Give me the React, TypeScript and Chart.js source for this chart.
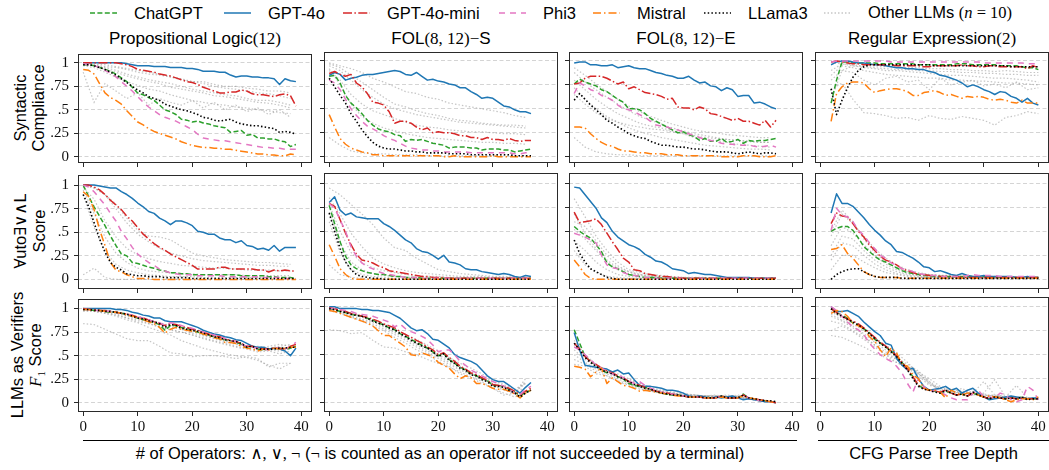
import React, { useEffect, useRef } from 'react';
import { Chart, registerables } from 'chart.js';
Chart.register(...registerables);

// ---------------- ticks / categories ----------------
const X_TICKS = [0, 10, 20, 30, 40];
const Y_TICKS = [0, 0.25, 0.5, 0.75, 1];
const Y_TICK_LABELS = ['0', '.25', '.5', '.75', '1'];
const COL_X_START = [0, 0, 0, 2]; // first x value of each column's series
const OTHER_STEP = 2; // x step of the "Other LLMs" samples

// ---------------- values (percent) ----------------
// Row 1: Syntactic Compliance
const PL_SC_CHATGPT = [98,98,97,95,93,91,88,84,80,74,68,66,63,60,55,50,48,45,40,39,37,38,36,35,33,32,31,26,27,28,23,24,20,20,19,19,17,16,11,13];
const PL_SC_GPT4O = [100,100,100,100,100,100,100,100,99,98,97,97,97,96,96,96,95,95,95,94,94,93,91,91,91,90,90,87,85,86,86,85,85,84,84,83,77,83,81,80];
const PL_SC_MINI = [100,100,100,100,100,100,100,99,98,96,93,92,91,90,88,87,86,84,82,80,79,77,74,72,70,68,68,69,69,71,70,67,66,66,65,64,66,67,65,54];
const PL_SC_PHI3 = [99,98,97,95,92,89,85,80,75,70,64,58,53,49,45,42,40,38,35,32,29,24,20,19,18,17,17,16,15,14,13,12,11,10,10,9,9,8,8,8];
const PL_SC_MISTRAL = [93,92,88,78,68,63,60,56,49,43,37,34,30,27,25,23,21,19,16,14,12,11,10,10,9,9,8,8,7,6,5,4,3,3,2,2,1,1,3,2];
const PL_SC_LLAMA3 = [98,98,97,95,93,90,87,83,79,75,71,68,64,62,60,56,54,52,50,49,47,45,42,41,39,38,39,40,37,35,34,33,33,32,31,30,26,27,26,24];
const PL_SC_OTHERS = [
  [100,99,98,96,94,92,90,88,85,83,80,78,75,73,72,70,68,67,65,62],
  [98,97,95,92,88,85,82,80,78,75,72,70,68,66,65,62,60,60,58,55],
  [97,95,90,85,80,76,72,70,66,63,60,58,56,55,53,52,50,49,47,46],
  [90,58,78,70,62,68,55,62,58,55,60,52,58,50,55,48,52,45,50,42],
  [100,98,96,95,93,90,88,87,85,82,80,80,77,75,75,73,72,70,70,68],
  [99,97,93,90,86,83,80,78,74,72,70,68,65,64,62,60,58,57,55,52],
];

const FS_SC_CHATGPT = [84,85,77,64,56,51,45,38,33,29,27,26,23,22,16,18,17,18,16,14,13,12,9,10,10,10,9,9,7,8,8,8,7,7,5,6,7,8];
const FS_SC_GPT4O = [85,88,86,80,82,83,85,86,86,87,88,89,90,89,86,85,88,84,80,81,79,78,76,75,72,72,68,65,61,62,61,57,53,52,49,47,47,45];
const FS_SC_MINI = [87,89,86,84,86,77,73,66,57,56,54,47,35,37,37,35,31,28,30,25,26,25,25,24,22,22,20,20,18,20,18,18,17,19,17,16,17,17];
const FS_SC_PHI3 = [80,77,70,60,50,43,37,32,29,26,22,19,17,14,11,9,8,7,7,6,6,5,5,5,5,5,4,4,4,4,4,4,4,4,3,3,4,4];
const FS_SC_MISTRAL = [44,31,19,13,9,7,5,4,2,2,1,1,1,1,1,1,1,1,1,1,1,0,0,1,0,0,0,0,0,0,1,0,0,0,0,0,0,0];
const FS_SC_LLAMA3 = [82,73,64,56,45,37,28,21,15,11,9,8,8,7,6,6,5,5,4,4,4,4,3,3,3,3,2,2,2,2,2,2,2,2,1,1,1,1];
const FS_SC_OTHERS = [
  [98,95,92,88,82,78,73,68,66,62,60,56,54,52,50,48,46,43,41],
  [95,90,80,70,62,55,50,47,44,42,40,38,36,35,34,33,32,31,30],
  [90,80,65,55,48,44,40,36,33,31,30,28,27,26,26,25,24,24,23],
  [92,75,55,42,35,30,27,24,22,20,19,18,17,16,15,15,14,14,13],
  [20,12,6,4,3,3,2,2,2,1,1,1,1,1,1,1,1,1,1],
  [97,93,85,78,70,62,55,52,48,45,43,40,38,37,35,34,33,33,32],
];

const FE_SC_CHATGPT = [76,81,78,76,74,70,68,64,60,57,50,50,49,45,40,37,34,31,28,25,26,23,21,17,19,16,16,19,15,16,18,14,17,16,17,17,18,19];
const FE_SC_GPT4O = [98,99,99,96,96,95,95,96,93,94,95,93,92,92,90,88,87,85,84,82,82,84,80,77,78,74,73,69,72,70,63,64,64,56,57,55,52,50];
const FE_SC_MINI = [76,77,82,84,84,84,82,79,76,78,71,73,70,67,66,65,63,60,61,52,51,51,49,52,50,45,44,42,40,38,40,37,37,35,33,38,31,38];
const FE_SC_PHI3 = [66,77,74,70,68,64,62,59,54,50,49,47,44,41,37,33,32,31,29,28,26,24,22,20,18,17,16,14,13,13,12,12,12,11,10,11,12,10];
const FE_SC_MISTRAL = [31,31,30,24,19,15,12,11,8,6,6,5,4,4,3,3,3,2,2,2,1,1,1,1,1,1,1,0,0,0,0,1,1,1,0,0,0,1];
const FE_SC_LLAMA3 = [59,66,60,54,49,44,38,35,31,28,24,22,20,19,16,14,12,12,11,10,10,9,8,8,7,6,5,5,5,4,3,4,5,4,3,4,4,3];
const FE_SC_OTHERS = [
  [93,85,76,68,60,53,47,42,38,34,31,28,26,25,23,22,21,20,20],
  [88,78,70,62,55,48,42,38,34,30,27,24,22,20,18,17,16,15,15],
  [80,70,60,52,45,40,35,32,30,27,24,20,18,17,15,13,12,11,10],
  [72,60,50,42,36,30,26,23,20,18,16,14,12,11,10,9,8,8,7],
  [20,10,5,3,2,2,1,1,1,1,1,1,1,1,1,1,1,1,1],
  [65,55,46,40,36,33,31,29,28,26,24,22,20,19,18,17,16,15,15],
];

const RE_SC_CHATGPT = [56,80,99,99,98,98,98,98,98,97,97,97,97,97,97,97,96,96,96,96,96,96,96,97,97,97,96,96,96,96,96,95,95,95,95,94,93,93,91];
const RE_SC_GPT4O = [96,99,100,100,99,98,98,97,96,96,95,94,93,93,92,92,91,91,89,88,85,84,82,80,77,73,75,73,70,68,65,68,67,63,61,57,61,56,54];
const RE_SC_MINI = [99,100,99,98,97,97,96,96,96,96,96,96,95,95,95,95,95,94,94,95,95,95,95,95,96,95,95,94,94,95,95,94,94,94,94,94,92,95,93];
const RE_SC_PHI3 = [99,100,100,100,100,100,100,100,100,100,100,99,99,99,99,99,99,99,99,99,99,99,99,99,99,99,99,99,98,98,98,98,98,98,98,98,97,97,97];
const RE_SC_MISTRAL = [37,66,73,77,78,78,77,71,67,69,70,71,71,70,68,64,64,67,68,69,67,64,65,63,61,63,62,63,62,60,59,60,59,57,56,59,56,56,56];
const RE_SC_LLAMA3 = [71,44,59,72,83,90,94,96,96,96,96,96,96,96,96,96,96,96,96,95,95,95,95,95,95,95,95,95,95,95,95,95,95,94,94,94,94,94,94];
const RE_SC_OTHERS = [
  [70,77,60,46,45,43,40,41,38,43,40,39,42,40,38,33,41,43,47,45],
  [90,97,95,93,92,90,90,89,88,87,86,85,85,84,83,82,82,81,80,78],
  [85,95,93,90,88,86,85,84,83,82,82,80,80,79,79,78,77,77,76,75],
  [60,90,95,94,93,92,91,91,90,90,89,89,88,88,87,87,86,86,85,85],
  [98,97,96,95,95,94,94,93,93,92,92,91,91,90,90,89,90,89,88,88],
  [80,90,88,80,75,82,84,78,80,70,82,75,78,80,74,76,72,78,70,72],
];

// Row 2: AutoEval score
const PL_AE_CHATGPT = [100,88,77,67,57,46,36,27,25,18,17,15,13,12,10,9,7,7,6,6,5,5,5,5,5,5,5,5,5,4,4,4,4,4,3,3,2,2,2,1];
const PL_AE_GPT4O = [100,100,100,99,98,97,97,93,90,86,81,77,72,70,65,62,58,62,62,60,57,51,50,48,48,44,42,42,39,41,36,35,32,33,31,36,30,34,34,34];
const PL_AE_MINI = [100,100,98,95,90,84,79,74,67,62,55,48,43,38,34,31,27,24,21,18,15,11,11,11,11,13,13,11,11,11,11,11,10,10,8,10,9,10,9,9];
const PL_AE_PHI3 = [100,98,93,86,79,70,62,51,43,34,27,22,18,15,11,9,7,6,5,5,5,4,4,4,4,4,3,3,3,3,3,3,3,2,2,2,2,1,1,1];
const PL_AE_MISTRAL = [93,88,74,53,36,18,10,8,5,3,1,1,1,0,0,0,0,0,0,0,0,0,0,0,0,0,0,0,0,0,0,0,0,0,0,0,0,0,0,0];
const PL_AE_LLAMA3 = [90,77,60,43,29,18,13,10,6,5,4,4,3,3,3,2,2,2,2,2,1,1,1,1,1,1,1,1,1,1,1,1,1,1,1,1,1,1,1,1];
const PL_AE_OTHERS = [
  [100,97,90,80,65,52,46,45,42,35,28,25,23,21,20,19,18,18,17,16],
  [98,85,62,45,33,26,22,19,17,15,14,13,12,12,11,10,10,10,9,9],
  [95,70,45,28,18,12,9,8,7,6,6,5,5,5,5,4,4,4,4,4],
  [90,55,30,16,10,7,5,4,3,3,3,2,2,2,2,2,2,2,2,2],
  [5,12,2,0,0,0,0,0,0,0,0,0,0,0,0,0,0,0,0,0],
  [100,97,90,75,60,48,40,33,28,25,22,20,19,18,17,16,15,15,14,14],
];

const FS_AE_CHATGPT = [77,58,39,24,15,11,9,7,6,5,5,4,3,3,2,2,2,1,1,1,1,1,1,1,1,1,1,1,1,1,1,1,1,1,1,1,1,1];
const FS_AE_GPT4O = [80,86,72,67,69,65,64,63,63,63,58,55,51,46,41,38,32,29,28,25,21,25,18,17,15,11,10,10,8,7,6,5,6,5,3,2,4,3];
const FS_AE_MINI = [79,76,62,48,36,26,20,19,17,14,12,9,8,7,6,5,4,3,3,2,2,2,1,1,1,1,1,1,1,1,1,1,1,1,1,1,1,1];
const FS_AE_PHI3 = [79,74,62,50,34,24,17,13,11,8,6,5,4,3,2,2,2,1,1,1,1,1,1,1,1,1,1,1,1,1,1,1,1,1,1,1,1,1];
const FS_AE_MISTRAL = [36,24,11,5,1,0,0,0,0,0,0,0,0,0,0,0,0,0,0,0,0,0,0,0,0,0,0,0,0,0,0,0,0,0,0,0,0,0];
const FS_AE_LLAMA3 = [69,50,32,18,10,5,3,2,1,1,0,0,0,0,0,0,0,0,0,0,0,0,0,0,0,0,0,0,0,0,0,0,0,0,0,0,0,0];
const FS_AE_OTHERS = [
  [95,88,78,68,57,43,33,30,22,16,10,8,6,5,4,3,3,2,2],
  [85,68,48,34,22,16,12,9,7,6,5,4,3,3,3,2,2,2,2],
  [78,50,28,17,12,9,7,5,4,3,3,2,2,2,2,1,1,1,1],
  [70,38,18,10,6,4,3,2,2,1,1,1,1,1,1,1,1,1,1],
  [60,28,10,5,3,2,1,1,1,1,1,1,1,1,1,1,1,1,1],
  [15,5,2,1,0,0,0,0,0,0,0,0,0,0,0,0,0,0,0],
];

const FE_AE_CHATGPT = [55,50,46,43,36,29,17,13,11,8,5,4,3,2,2,2,1,1,1,1,1,1,1,1,1,1,1,1,1,1,1,1,1,1,1,1,1,1];
const FE_AE_GPT4O = [96,95,88,81,74,64,59,50,44,40,36,34,31,26,23,19,18,15,11,10,9,6,7,6,5,5,4,3,2,2,2,2,2,1,1,1,1,1];
const FE_AE_MINI = [70,59,60,61,63,57,48,39,31,22,18,10,9,6,5,4,3,3,2,2,1,1,1,1,1,1,1,1,1,1,1,1,1,1,1,1,1,1];
const FE_AE_PHI3 = [48,46,44,41,38,25,15,12,11,7,5,4,3,2,2,1,1,1,1,1,1,1,1,1,1,1,1,1,1,1,1,1,1,1,1,1,1,1];
const FE_AE_MISTRAL = [20,13,5,1,0,0,0,0,0,0,0,0,0,0,0,0,0,0,0,0,0,0,0,0,0,0,0,0,0,0,0,0,0,0,0,0,0,0];
const FE_AE_LLAMA3 = [41,27,18,11,8,5,2,1,0,0,0,0,0,0,0,0,0,0,0,0,0,0,0,0,0,0,0,0,0,0,0,0,0,0,0,0,0,0];
const FE_AE_OTHERS = [
  [84,65,45,30,18,10,7,5,4,3,2,2,2,1,1,1,1,1,1],
  [68,48,32,20,12,8,5,4,3,2,2,1,1,1,1,1,1,1,1],
  [52,42,30,18,10,6,4,3,2,2,1,1,1,1,1,1,1,1,1],
  [40,30,18,10,5,3,2,1,1,1,1,1,1,1,1,1,1,1,1],
  [30,15,7,3,2,1,1,1,1,1,1,1,1,1,1,1,1,1,1],
  [60,55,40,25,14,8,5,3,2,2,1,1,1,1,1,1,1,1,1],
];

const RE_AE_CHATGPT = [50,53,55,55,51,43,34,29,24,20,18,15,12,9,7,6,5,4,4,3,3,3,3,3,3,3,3,3,3,2,2,2,2,2,2,2,2,2,2];
const RE_AE_GPT4O = [69,89,79,79,76,70,64,57,51,46,40,36,29,28,25,22,18,13,12,8,9,7,5,4,6,4,3,3,4,3,3,3,3,3,2,2,3,2,2];
const RE_AE_MINI = [58,69,66,65,58,50,44,36,30,24,20,18,15,11,9,7,5,5,4,4,3,3,3,3,2,2,2,2,2,2,2,2,2,2,2,2,2,2,2];
const RE_AE_PHI3 = [51,74,67,65,60,51,46,38,32,25,22,17,15,11,10,8,6,5,4,4,3,3,3,3,3,4,5,4,4,4,4,3,3,3,3,3,3,3,3];
const RE_AE_MISTRAL = [31,32,36,27,22,15,8,5,3,2,2,2,2,1,1,1,1,1,1,1,1,1,1,1,1,1,1,1,1,1,1,1,1,1,1,1,1,1,1];
const RE_AE_LLAMA3 = [0,5,8,10,11,11,8,5,3,2,2,2,2,1,1,1,1,1,1,1,1,1,1,1,1,1,1,1,1,1,1,1,1,1,1,1,1,1,1];
const RE_AE_OTHERS = [
  [45,68,58,45,32,22,15,10,7,5,4,3,3,3,2,2,2,2,2,2],
  [35,55,48,36,25,16,10,6,4,3,3,2,2,2,2,2,2,2,2,2],
  [25,45,42,30,20,13,8,5,4,3,2,2,2,2,2,2,2,2,1,1],
  [20,38,35,25,16,10,6,4,3,2,2,2,2,1,1,1,1,1,1,1],
  [10,25,25,18,12,7,5,3,2,2,2,1,1,1,1,1,1,1,1,1],
  [50,72,60,42,28,18,12,8,6,5,4,4,3,3,3,3,2,2,2,2],
];

// Row 3: LLMs as verifiers, F1 score
const PL_F1_CHATGPT = [99,99,98,98,97,96,96,95,94,92,90,88,87,85,83,77,82,82,80,79,77,75,73,72,70,68,67,66,64,62,59,60,57,56,57,58,58,57,58,60];
const PL_F1_GPT4O = [100,100,100,100,100,100,99,99,98,96,95,93,92,90,90,87,86,86,86,84,82,80,77,75,73,72,70,69,67,66,63,60,59,59,57,58,57,55,50,58];
const PL_F1_MINI = [100,99,99,98,98,97,96,95,94,93,91,90,88,86,84,82,84,83,81,80,78,77,75,73,71,70,68,66,65,63,60,60,58,57,57,58,58,57,60,62];
const PL_F1_PHI3 = [99,99,98,98,97,97,96,95,94,93,91,90,88,86,85,82,85,84,82,80,79,77,75,73,72,70,68,66,65,62,60,59,58,57,56,58,58,57,60,64];
const PL_F1_MISTRAL = [99,99,98,98,97,96,96,95,93,92,90,88,86,84,80,74,78,80,78,77,76,75,73,71,69,68,64,64,63,60,58,57,55,57,56,58,57,58,59,59];
const PL_F1_LLAMA3 = [99,99,98,98,97,97,96,95,94,92,90,89,87,86,84,80,83,82,79,78,77,76,74,72,70,69,67,66,65,63,59,60,57,57,57,57,58,58,59,59];
const PL_F1_OTHERS = [
  [84,83,78,73,68,66,66,60,53,52,49,50,50,49,47,49,47,38,42,42],
  [99,97,95,92,88,85,80,76,72,66,62,58,55,52,50,48,45,40,36,42],
  [98,98,96,94,90,88,84,80,78,75,72,69,66,63,60,58,56,56,55,57],
  [100,99,98,96,93,90,88,85,82,79,76,72,69,66,63,60,60,58,60,62],
  [97,97,95,93,90,86,84,81,77,75,72,68,65,62,59,57,54,55,52,55],
  [100,99,97,95,92,89,86,83,80,78,74,71,68,65,62,60,58,60,62,60],
];

const FS_F1_CHATGPT = [98,97,95,94,92,91,90,88,86,83,81,78,76,72,69,66,63,60,57,53,49,51,45,41,37,34,30,28,25,23,18,18,17,14,11,7,11,13];
const FS_F1_GPT4O = [100,100,98,98,98,98,97,97,96,96,95,94,91,88,83,78,75,76,72,66,65,61,57,50,47,45,43,40,34,28,24,22,22,18,14,10,16,21];
const FS_F1_MINI = [99,98,96,95,93,92,90,89,87,85,82,80,78,74,71,68,65,62,58,55,50,52,47,43,38,35,31,29,26,23,19,18,17,15,12,8,12,15];
const FS_F1_PHI3 = [98,98,97,96,95,93,92,91,90,88,86,84,79,82,77,74,72,69,66,60,53,55,55,50,43,39,34,31,28,25,22,20,17,14,10,8,14,17];
const FS_F1_MISTRAL = [96,95,93,91,89,87,85,83,80,75,70,70,66,62,58,50,49,52,50,48,42,39,36,30,25,28,26,20,20,18,15,14,14,12,9,5,10,13];
const FS_F1_LLAMA3 = [98,97,95,94,92,91,90,88,85,83,81,78,76,72,69,65,62,59,57,53,48,51,44,41,36,34,29,28,24,22,17,17,16,13,10,6,10,13];
const FS_F1_OTHERS = [
  [76,75,72,73,65,58,57,53,50,45,41,37,32,27,22,15,8,10,25],
  [99,96,93,89,85,80,74,68,62,56,50,44,38,32,27,22,17,12,15],
  [97,94,90,86,82,77,71,65,58,52,46,40,34,29,24,18,13,10,22],
  [98,95,91,87,84,79,73,67,60,54,48,42,35,30,25,20,14,11,20],
  [96,93,89,85,80,75,68,62,55,50,43,38,30,26,20,15,10,6,10],
  [99,97,94,90,86,82,77,71,66,60,54,47,41,36,30,24,19,14,20],
];

const FE_F1_CHATGPT = [76,62,48,43,39,34,31,32,27,25,20,18,17,16,14,12,10,9,8,8,7,6,6,6,6,5,5,7,5,5,5,9,5,4,2,2,1,0];
const FE_F1_GPT4O = [73,55,39,38,37,36,35,32,34,30,31,24,18,17,17,16,15,13,13,12,10,7,6,7,6,5,6,5,6,7,5,3,4,3,2,1,1,0];
const FE_F1_MINI = [62,56,48,43,40,36,33,31,28,26,22,20,18,16,14,12,11,10,9,8,7,6,6,6,5,5,5,7,5,5,5,8,5,4,3,2,1,0];
const FE_F1_PHI3 = [58,55,50,45,39,36,33,30,29,26,23,20,22,18,15,13,11,10,9,8,7,6,6,6,5,5,5,7,5,5,5,8,5,4,2,2,1,0];
const FE_F1_MISTRAL = [38,37,35,27,32,36,20,26,22,18,17,15,12,13,12,11,10,9,8,7,7,6,6,6,5,5,5,6,5,5,5,7,5,4,3,2,1,0];
const FE_F1_LLAMA3 = [62,55,47,42,38,34,32,30,27,25,22,19,17,15,14,12,10,9,8,8,7,6,6,6,5,5,5,7,5,5,5,8,5,4,3,2,2,1];
const FE_F1_OTHERS = [
  [60,48,40,34,28,24,20,16,13,11,9,8,7,7,7,7,5,3,1],
  [55,45,37,32,27,22,18,14,12,10,8,8,7,8,6,8,5,3,2],
  [50,42,35,30,25,20,16,13,11,9,8,7,7,7,6,6,4,3,1],
  [45,40,33,28,23,19,15,12,10,9,10,8,7,6,8,6,4,2,1],
  [65,50,40,33,30,25,20,15,12,10,8,7,7,6,6,6,4,2,1],
  [40,38,30,28,22,18,14,12,10,8,7,8,6,7,5,5,4,2,1],
];

const RE_F1_CHATGPT = [98,94,91,88,83,81,77,73,66,62,58,54,48,42,35,27,18,15,13,12,10,12,10,8,9,7,10,8,6,4,6,5,4,5,4,6,4,4,4];
const RE_F1_GPT4O = [100,95,95,96,93,90,84,79,74,70,62,60,46,39,34,36,25,17,13,14,15,17,13,15,10,13,15,10,6,3,4,5,6,7,6,5,4,5,5];
const RE_F1_MINI = [98,94,90,87,85,82,78,73,68,63,59,54,49,42,35,27,18,15,13,12,11,13,10,8,9,7,10,8,6,4,6,5,4,5,4,5,4,4,4];
const RE_F1_PHI3 = [100,96,90,84,79,76,71,62,56,50,46,43,38,31,20,11,25,17,11,13,11,8,5,3,3,3,10,13,6,6,5,10,8,3,1,3,17,13,3];
const RE_F1_MISTRAL = [93,96,95,90,83,80,77,69,64,55,48,57,52,40,38,29,25,15,13,13,11,5,13,10,8,10,10,8,6,7,6,5,3,1,3,4,4,3,6];
const RE_F1_LLAMA3 = [98,93,90,87,84,81,77,72,67,62,58,53,48,41,34,25,17,14,13,11,10,13,10,8,9,7,11,8,6,4,6,5,4,5,4,6,3,4,4];
const RE_F1_OTHERS = [
  [70,68,63,58,52,47,42,37,30,22,15,12,10,9,8,6,5,4,4,4],
  [75,80,74,66,58,50,45,38,32,25,17,14,12,10,22,8,7,6,5,5],
  [90,85,78,72,63,55,47,40,33,22,12,10,15,8,10,24,6,18,5,4],
  [95,88,82,75,67,60,52,42,30,20,14,11,10,12,8,7,6,5,5,4],
  [92,86,80,70,60,50,42,36,28,18,16,13,9,10,7,8,6,5,4,4],
  [85,82,75,68,60,53,45,38,31,20,13,12,11,8,9,7,6,5,4,4],
];

// ---------------- panels ----------------
const PANELS = [
  { row: 0, col: 0, s: { chatgpt: PL_SC_CHATGPT, gpt4o: PL_SC_GPT4O, mini: PL_SC_MINI, phi3: PL_SC_PHI3, mistral: PL_SC_MISTRAL, llama3: PL_SC_LLAMA3 }, others: PL_SC_OTHERS },
  { row: 0, col: 1, s: { chatgpt: FS_SC_CHATGPT, gpt4o: FS_SC_GPT4O, mini: FS_SC_MINI, phi3: FS_SC_PHI3, mistral: FS_SC_MISTRAL, llama3: FS_SC_LLAMA3 }, others: FS_SC_OTHERS },
  { row: 0, col: 2, s: { chatgpt: FE_SC_CHATGPT, gpt4o: FE_SC_GPT4O, mini: FE_SC_MINI, phi3: FE_SC_PHI3, mistral: FE_SC_MISTRAL, llama3: FE_SC_LLAMA3 }, others: FE_SC_OTHERS },
  { row: 0, col: 3, s: { chatgpt: RE_SC_CHATGPT, gpt4o: RE_SC_GPT4O, mini: RE_SC_MINI, phi3: RE_SC_PHI3, mistral: RE_SC_MISTRAL, llama3: RE_SC_LLAMA3 }, others: RE_SC_OTHERS },
  { row: 1, col: 0, s: { chatgpt: PL_AE_CHATGPT, gpt4o: PL_AE_GPT4O, mini: PL_AE_MINI, phi3: PL_AE_PHI3, mistral: PL_AE_MISTRAL, llama3: PL_AE_LLAMA3 }, others: PL_AE_OTHERS },
  { row: 1, col: 1, s: { chatgpt: FS_AE_CHATGPT, gpt4o: FS_AE_GPT4O, mini: FS_AE_MINI, phi3: FS_AE_PHI3, mistral: FS_AE_MISTRAL, llama3: FS_AE_LLAMA3 }, others: FS_AE_OTHERS },
  { row: 1, col: 2, s: { chatgpt: FE_AE_CHATGPT, gpt4o: FE_AE_GPT4O, mini: FE_AE_MINI, phi3: FE_AE_PHI3, mistral: FE_AE_MISTRAL, llama3: FE_AE_LLAMA3 }, others: FE_AE_OTHERS },
  { row: 1, col: 3, s: { chatgpt: RE_AE_CHATGPT, gpt4o: RE_AE_GPT4O, mini: RE_AE_MINI, phi3: RE_AE_PHI3, mistral: RE_AE_MISTRAL, llama3: RE_AE_LLAMA3 }, others: RE_AE_OTHERS },
  { row: 2, col: 0, s: { chatgpt: PL_F1_CHATGPT, gpt4o: PL_F1_GPT4O, mini: PL_F1_MINI, phi3: PL_F1_PHI3, mistral: PL_F1_MISTRAL, llama3: PL_F1_LLAMA3 }, others: PL_F1_OTHERS },
  { row: 2, col: 1, s: { chatgpt: FS_F1_CHATGPT, gpt4o: FS_F1_GPT4O, mini: FS_F1_MINI, phi3: FS_F1_PHI3, mistral: FS_F1_MISTRAL, llama3: FS_F1_LLAMA3 }, others: FS_F1_OTHERS },
  { row: 2, col: 2, s: { chatgpt: FE_F1_CHATGPT, gpt4o: FE_F1_GPT4O, mini: FE_F1_MINI, phi3: FE_F1_PHI3, mistral: FE_F1_MISTRAL, llama3: FE_F1_LLAMA3 }, others: FE_F1_OTHERS },
  { row: 2, col: 3, s: { chatgpt: RE_F1_CHATGPT, gpt4o: RE_F1_GPT4O, mini: RE_F1_MINI, phi3: RE_F1_PHI3, mistral: RE_F1_MISTRAL, llama3: RE_F1_LLAMA3 }, others: RE_F1_OTHERS },
];

// ---------------- styles ----------------
// drawing order: first entry ends up on top
const SERIES_STYLE = [
  { key: 'llama3', label: 'LLama3', color: '#000000', dash: [1.5, 2.2], width: 1.6 },
  { key: 'mistral', label: 'Mistral', color: '#ff7f0e', dash: [8, 3, 1.5, 3], width: 1.5 },
  { key: 'phi3', label: 'Phi3', color: '#e377c2', dash: [6, 5], width: 1.5 },
  { key: 'mini', label: 'GPT-4o-mini', color: '#d62728', dash: [9, 2.4, 1.5, 2.4], width: 1.5 },
  { key: 'gpt4o', label: 'GPT-4o', color: '#1f77b4', dash: [], width: 1.5 },
  { key: 'chatgpt', label: 'ChatGPT', color: '#2ca02c', dash: [5, 2.4], width: 1.5 },
];
const OTHER_STYLE = { color: 'rgba(150,150,150,0.55)', dash: [1.5, 2], width: 1.2 };

const SANS = "'Liberation Sans', Arial, sans-serif";
const SERIF = "'Liberation Serif', 'DejaVu Serif', serif";

// layout (pixels)
const COL_LEFT = [78, 324, 569, 815];
const BOX_W = 234;
const ROW_TOP = [52, 173, 297];
const ROW_H = [111, 116, 115];
const ROW_YMIN = [-0.066, -0.101, -0.097];
const ROW_YMAX = [1.094, 1.107, 1.101];
const X_MIN = -0.95;
const X_MAX = 41.95;
const PAD_L = 42, PAD_T = 12, PAD_R = 12, PAD_B = 28;

const framePlugin = {
  id: 'frame',
  afterDraw(chart: any) {
    const { ctx, chartArea: a } = chart;
    ctx.save();
    ctx.strokeStyle = '#2a2a2a';
    ctx.lineWidth = 1;
    ctx.strokeRect(a.left + 0.5, a.top + 0.5, a.right - a.left - 1, a.bottom - a.top - 1);
    ctx.restore();
  },
};

function pts(vals: number[], start: number, step: number) {
  return vals.map((v, i) => ({ x: start + i * step, y: v / 100 }));
}

function buildConfig(p: any) {
  const start = COL_X_START[p.col];
  const datasets: any[] = [];
  SERIES_STYLE.forEach((st) => {
    datasets.push({
      label: st.label,
      data: pts(p.s[st.key], start, 1),
      borderColor: st.color,
      borderWidth: st.width,
      borderDash: st.dash,
      borderCapStyle: 'butt',
      borderJoinStyle: 'round',
      pointRadius: 0,
      pointHoverRadius: 0,
      fill: false,
      tension: 0,
    });
  });
  p.others.forEach((o: number[], i: number) => {
    datasets.push({
      label: 'other' + i,
      data: pts(o, start, OTHER_STEP),
      borderColor: OTHER_STYLE.color,
      borderWidth: OTHER_STYLE.width,
      borderDash: OTHER_STYLE.dash,
      pointRadius: 0,
      pointHoverRadius: 0,
      fill: false,
      tension: 0,
    });
  });
  const showX = p.row === 2;
  const showY = p.col === 0;
  return {
    type: 'line',
    data: { datasets },
    options: {
      animation: false,
      responsive: false,
      maintainAspectRatio: false,
      events: [],
      layout: { padding: { top: PAD_T, right: PAD_R, left: 0, bottom: 0 } },
      plugins: { legend: { display: false }, tooltip: { enabled: false } },
      scales: {
        x: {
          type: 'linear',
          min: X_MIN,
          max: X_MAX,
          afterBuildTicks: (s: any) => { s.ticks = X_TICKS.map((v) => ({ value: v })); },
          afterFit: (s: any) => { s.height = PAD_B; },
          grid: { display: true, drawOnChartArea: false, drawTicks: true, tickLength: 4, tickColor: '#2a2a2a', tickWidth: 1, color: 'rgba(0,0,0,0)', lineWidth: 1 },
          border: { display: false },
          ticks: {
            display: showX, color: '#111', padding: 2, maxRotation: 0, minRotation: 0, autoSkip: false,
            font: { family: SERIF, size: 15 },
            callback: (v: any) => String(v),
          },
        },
        y: {
          type: 'linear',
          min: ROW_YMIN[p.row],
          max: ROW_YMAX[p.row],
          afterBuildTicks: (s: any) => { s.ticks = Y_TICKS.map((v) => ({ value: v })); },
          afterFit: (s: any) => { s.width = PAD_L; },
          grid: { display: true, drawOnChartArea: true, drawTicks: true, tickLength: 4, tickColor: '#2a2a2a', tickWidth: 1, tickBorderDash: [], color: '#d4d4d4', lineWidth: 1 },
          border: { display: false, dash: [4, 2.5] },
          ticks: {
            display: showY, color: '#111', padding: 5, autoSkip: false,
            font: { family: SERIF, size: 15 },
            callback: (_v: any, i: number) => Y_TICK_LABELS[i],
          },
        },
      },
    },
    plugins: [framePlugin],
  };
}

function LegendItem({ left, style, children }: any) {
  return (
    <div style={{ position: 'absolute', left: left - 44, top: 3, height: 20, display: 'flex', alignItems: 'center', whiteSpace: 'nowrap' }}>
      <svg width={27} height={10} style={{ marginRight: 17 }}>
        <line x1={0} y1={5} x2={27} y2={5} stroke={style.color} strokeWidth={style.width}
          strokeDasharray={style.dash.length ? style.dash.join(' ') : undefined} />
      </svg>
      <span>{children}</span>
    </div>
  );
}

function RowLabel({ cy, lines }: any) {
  const W = 170, H = 40;
  return (
    <div style={{
      position: 'absolute', left: 29 - W / 2, top: cy - H / 2, width: W, height: H,
      transform: 'rotate(-90deg)', display: 'flex', flexDirection: 'column', alignItems: 'center', justifyContent: 'center',
      lineHeight: '18px', whiteSpace: 'nowrap',
    }}>
      {lines.map((l: any, i: number) => <div key={i}>{l}</div>)}
    </div>
  );
}

const m = (t: any) => <span style={{ fontFamily: SERIF }}>{t}</span>;

export default function App() {
  const refs = useRef<(HTMLCanvasElement | null)[]>([]);
  useEffect(() => {
    const charts = PANELS.map((p, i) => new Chart(refs.current[i] as HTMLCanvasElement, buildConfig(p) as any));
    return () => charts.forEach((c) => c.destroy());
  }, []);

  const styleOf = (k: string) => SERIES_STYLE.find((s) => s.key === k)!;
  const titles = [
    <>Propositional Logic{m('(12)')}</>,
    <>FOL{m('(8, 12)')}{m('\u2212')}S</>,
    <>FOL{m('(8, 12)')}{m('\u2212')}E</>,
    <>Regular Expression{m('(2)')}</>,
  ];

  return (
    <div style={{ position: 'absolute', left: 0, top: 0, width: 1049, height: 470, overflow: 'hidden', background: '#fff', fontFamily: SANS, fontSize: 16.5, color: '#000' }}>
      <LegendItem left={134} style={styleOf('chatgpt')}>ChatGPT</LegendItem>
      <LegendItem left={268} style={styleOf('gpt4o')}>GPT-4o</LegendItem>
      <LegendItem left={387} style={styleOf('mini')}>GPT-4o-mini</LegendItem>
      <LegendItem left={543} style={styleOf('phi3')}>Phi3</LegendItem>
      <LegendItem left={637} style={styleOf('mistral')}>Mistral</LegendItem>
      <LegendItem left={748} style={styleOf('llama3')}>LLama3</LegendItem>
      <LegendItem left={868} style={{ color: '#aaa', dash: [1.5, 2], width: 1.2 }}>
        Other LLMs {m(<>(<i>n</i> = 10)</>)}
      </LegendItem>

      {titles.map((t, c) => (
        <div key={c} style={{ position: 'absolute', left: COL_LEFT[c], top: 29, width: BOX_W, textAlign: 'center', fontSize: 17, whiteSpace: 'nowrap' }}>{t}</div>
      ))}

      <RowLabel cy={ROW_TOP[0] + ROW_H[0] / 2} lines={['Syntactic', 'Compliance']} />
      <RowLabel cy={ROW_TOP[1] + ROW_H[1] / 2} lines={[<>{m('\u2200')}uto{m('\u2203\u2228\u2227')}L</>, 'Score']} />
      <RowLabel cy={ROW_TOP[2] + ROW_H[2] / 2} lines={['LLMs as Verifiers', <><span style={{ fontFamily: SERIF, fontStyle: 'italic' }}>F</span><sub style={{ fontFamily: SERIF, fontSize: 11 }}>1</sub> Score</>]} />

      {PANELS.map((p, i) => {
        const left = COL_LEFT[p.col] - PAD_L;
        const top = ROW_TOP[p.row] - PAD_T;
        const w = BOX_W + PAD_L + PAD_R;
        const h = ROW_H[p.row] + PAD_T + PAD_B;
        return (
          <canvas key={i} ref={(el) => { refs.current[i] = el; }} width={w} height={h}
            style={{ position: 'absolute', left, top, width: w, height: h }} />
        );
      })}

      <div style={{ position: 'absolute', left: 83, top: 440, width: 714, borderTop: '1.5px solid #000' }} />
      <div style={{ position: 'absolute', left: 818, top: 440, width: 231, borderTop: '1.5px solid #000' }} />
      <div style={{ position: 'absolute', left: 83, top: 444, width: 714, textAlign: 'center', whiteSpace: 'nowrap' }}>
        # of Operators: {m('\u2227, \u2228, \u00ac')} ({m('\u00ac')} is counted as an operator iff not succeeded by a terminal)
      </div>
      <div style={{ position: 'absolute', left: 818, top: 444, width: 231, textAlign: 'center', whiteSpace: 'nowrap' }}>
        CFG Parse Tree Depth
      </div>
    </div>
  );
}
